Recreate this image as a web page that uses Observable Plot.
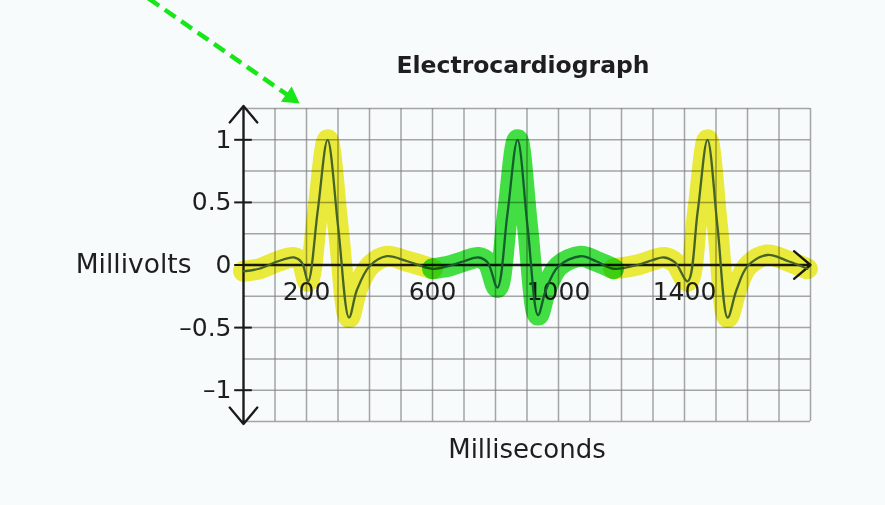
<!DOCTYPE html>
<html><head><meta charset="utf-8">
<script src="https://cdn.jsdelivr.net/npm/d3@7"></script>
<script src="https://cdn.jsdelivr.net/npm/@observablehq/plot@0.6"></script>
<style>
html,body{margin:0;padding:0;background:#f8fbfc;}
#chart{width:885px;height:505px;}
</style></head>
<body><div id="chart"></div>
<script>
// ECG trace (milliseconds, millivolts)
const ms = [0,50,110,160,185,205,236,267,301,335,360,400,455,520,600,
            650,700,746,775,806,838,870,902,935,960,1000,1070,1120,1175,
            1250,1300,1335,1370,1410,1442,1473,1505,1537,1565,1600,1663,1730,1790];
const mv = [-0.05,-0.03,0.03,0.06,0.02,-0.13,0.44,1.0,0.29,-0.42,-0.2,-0.01,0.07,0.03,-0.03,
            -0.01,0.03,0.06,0.02,-0.18,0.41,1.0,0.3,-0.4,-0.2,-0.01,0.07,0.03,-0.03,
            0.0,0.04,0.06,0.02,-0.13,0.43,1.0,0.3,-0.42,-0.2,-0.01,0.08,0.03,-0.03];
// hand-drawn highlighter spans (ms)
const yellowSpans = [[0,600],[1175,1800]];
const greenSpans = [[600,1175]];
const xTicks = [200,600,1000,1400];
const yTicks = [1,0.5,0,-0.5,-1];
const xGrid = d3.range(0,1801,100);
const yGrid = [-1.25,-1,-0.75,-0.5,-0.25,0,0.25,0.5,0.75,1,1.25];
const title = "Electrocardiograph";
const xLabel = "Milliseconds";
const yLabel = "Millivolts";
// green dashed annotation arrow (ms, mV)
const noteArrow = {x1:-302, y1:2.13, x2:150, y2:1.34};

const ecg = ms.map((t,i)=>({t, v: mv[i]}));
const inSpans = spans => d => spans.some(([a,b]) => d.t >= a && d.t <= b);
const fmt = d => String(d).replace("-", "\u2013");
const hl = (data, color) => Plot.line(data, {x:"t", y:"v", stroke:color, strokeWidth:21, curve:"catmull-rom", mixBlendMode:"multiply"});

const chart = Plot.plot({
  width: 885, height: 505,
  marginLeft: 243, marginRight: 75, marginTop: 108, marginBottom: 84,
  x: {domain:[0,1800], axis:null},
  y: {domain:[-1.25,1.25], axis:null},
  style: {background:"transparent", fontFamily:"'DejaVu Sans', sans-serif", color:"#1e1e1e"},
  marks: [
    Plot.gridX(xGrid, {stroke:"#808080", strokeOpacity:0.7, strokeWidth:1.5}),
    Plot.gridY(yGrid, {stroke:"#808080", strokeOpacity:0.7, strokeWidth:1.5}),
    // axes with arrow heads
    Plot.arrow([{x1:0,y1:0,x2:0,y2:1.27},{x1:0,y1:0,x2:0,y2:-1.27},{x1:0,y1:0,x2:1800,y2:0}],
      {x1:"x1",y1:"y1",x2:"x2",y2:"y2", stroke:"#1a1a1a", strokeWidth:2.3, headLength:14, headAngle:80}),
    Plot.ruleY(yTicks, {x1:-28, x2:28, stroke:"#1a1a1a", strokeWidth:2}),
    Plot.axisY({ticks:yTicks, tickSize:0, tickPadding:12, tickFormat:fmt, fontSize:25, anchor:"left"}),
    Plot.text(xTicks, {x:d=>d, y:0, dy:27, text:d=>String(d), fontSize:25, fill:"#1e1e1e"}),
    Plot.text([yLabel], {frameAnchor:"left", y:0, dx:-52, textAnchor:"end", fontSize:26.5, fill:"#1e1e1e"}),
    Plot.text([title], {frameAnchor:"top", dy:-52, dx:-4, fontSize:23.5, fontWeight:"bold", fill:"#1e1e1e"}),
    Plot.text([xLabel], {frameAnchor:"bottom", dy:36, fontSize:26, fill:"#1e1e1e"}),
    // ECG trace
    Plot.line(ecg, {x:"t", y:"v", stroke:"#4a6aa8", strokeWidth:2.3, curve:"catmull-rom"}),
    // highlighter strokes
    hl(ecg.filter(inSpans(yellowSpans.slice(0,1))), "#f0ee3c"),
    hl(ecg.filter(inSpans(yellowSpans.slice(1))), "#f0ee3c"),
    hl(ecg.filter(inSpans(greenSpans)), "#44e244"),
    // annotation arrow
    Plot.link([noteArrow], {x1:"x1",y1:"y1",x2:"x2",y2:"y2", stroke:"#19e619", strokeWidth:4.5, strokeDasharray:"13,7"}),
    Plot.dot([noteArrow], {x:"x2", y:"y2", symbol:"triangle", r:7, fill:"#19e619", stroke:"none", rotate:125})
  ]
});
document.getElementById("chart").appendChild(chart);
</script></body></html>
